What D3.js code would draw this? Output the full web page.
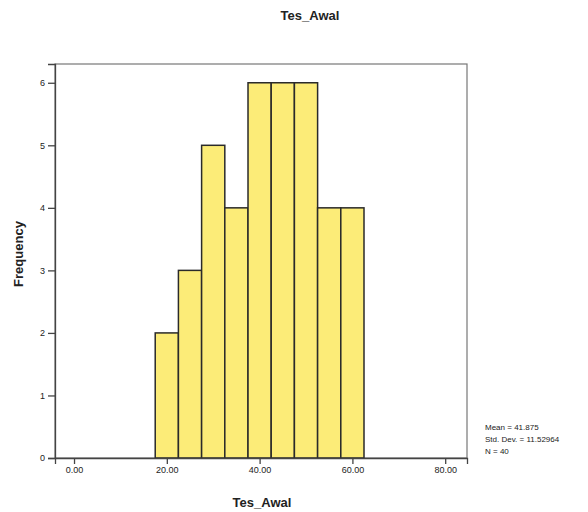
<!DOCTYPE html>
<html>
<head>
<meta charset="utf-8">
<script src="https://cdn.jsdelivr.net/npm/d3@7"></script>
<style>
  body { margin: 0; background: #fff; }
  text { font-family: Arial, "Liberation Sans", sans-serif; fill: #222; }
</style>
</head>
<body>
<div id="chart"></div>
<script>
// histogram bins (width 5) and counts
const binStarts = [17.5, 22.5, 27.5, 32.5, 37.5, 42.5, 47.5, 52.5, 57.5]
const counts = [2, 3, 5, 4, 6, 6, 6, 4, 4]
const binWidth = 5
const xTicks = [0, 20, 40, 60, 80]
const yTicks = [0, 1, 2, 3, 4, 5, 6]
const statsLines = ['Mean = 41.875', 'Std. Dev. = 11.52964', 'N = 40']

const margin = { top: 64, left: 55, right: 121, bottom: 54 }
const width = 588 - margin.left - margin.right
const height = 512 - margin.top - margin.bottom

const svg = d3
  .select('#chart')
  .append('svg')
  .attr('width', 588)
  .attr('height', 512)

const g = svg
  .append('g')
  .attr('transform', 'translate(' + margin.left + ',' + margin.top + ')')

const xPositionScale = d3.scaleLinear().domain([-4.1, 84.7]).range([0, width])
const yPositionScale = d3.scaleLinear().domain([0, 6.3]).range([height, 0])

// frame
g.append('rect')
  .attr('x', 0)
  .attr('y', 0)
  .attr('width', width)
  .attr('height', height)
  .attr('fill', '#fff')
  .attr('stroke', '#777')
  .attr('stroke-width', 1.2)

g.selectAll('.bar')
  .data(counts)
  .enter()
  .append('rect')
  .attr('class', 'bar')
  .attr('x', (d, i) => xPositionScale(binStarts[i]))
  .attr('width', (d, i) => xPositionScale(binStarts[i] + binWidth) - xPositionScale(binStarts[i]))
  .attr('y', d => yPositionScale(d))
  .attr('height', d => height - yPositionScale(d))
  .attr('fill', '#fcec78')
  .attr('stroke', '#2a2a2a')
  .attr('stroke-width', 1.5)

const yAxis = d3.axisLeft(yPositionScale)
  .tickValues(yTicks)
  .tickFormat(d3.format('d'))
  .tickSize(7)
  .tickPadding(3)
const yG = g.append('g').attr('class', 'axis y-axis').call(yAxis)
yG.select('.domain').attr('stroke', '#444').attr('stroke-width', 1.3)
yG.selectAll('line').attr('stroke', '#444').attr('stroke-width', 1.3)
yG.selectAll('text').attr('font-size', 9)

const xAxis = d3
  .axisBottom(xPositionScale)
  .tickValues(xTicks)
  .tickFormat(d3.format('.2f'))
  .tickSize(6)
  .tickPadding(3)
const xG = g.append('g')
  .attr('class', 'axis x-axis')
  .attr('transform', 'translate(0,' + height + ')')
  .call(xAxis)
xG.select('.domain').attr('stroke', '#444').attr('stroke-width', 1.3)
xG.selectAll('line').attr('stroke', '#444').attr('stroke-width', 1.3)
xG.selectAll('text').attr('font-size', 9)

// titles
svg.append('text')
  .attr('x', 310)
  .attr('y', 20)
  .attr('text-anchor', 'middle')
  .attr('font-size', 13)
  .attr('font-weight', 'bold')
  .text('Tes_Awal')

svg.append('text')
  .attr('x', 262)
  .attr('y', 507)
  .attr('text-anchor', 'middle')
  .attr('font-size', 13)
  .attr('font-weight', 'bold')
  .text('Tes_Awal')

svg.append('text')
  .attr('transform', 'translate(23,254) rotate(-90)')
  .attr('text-anchor', 'middle')
  .attr('font-size', 13)
  .attr('font-weight', 'bold')
  .text('Frequency')

svg.selectAll('.stat')
  .data(statsLines)
  .enter()
  .append('text')
  .attr('class', 'stat')
  .attr('x', 485)
  .attr('y', (d, i) => 430 + i * 12)
  .attr('font-size', 8)
  .text(d => d)
</script>
</body>
</html>
